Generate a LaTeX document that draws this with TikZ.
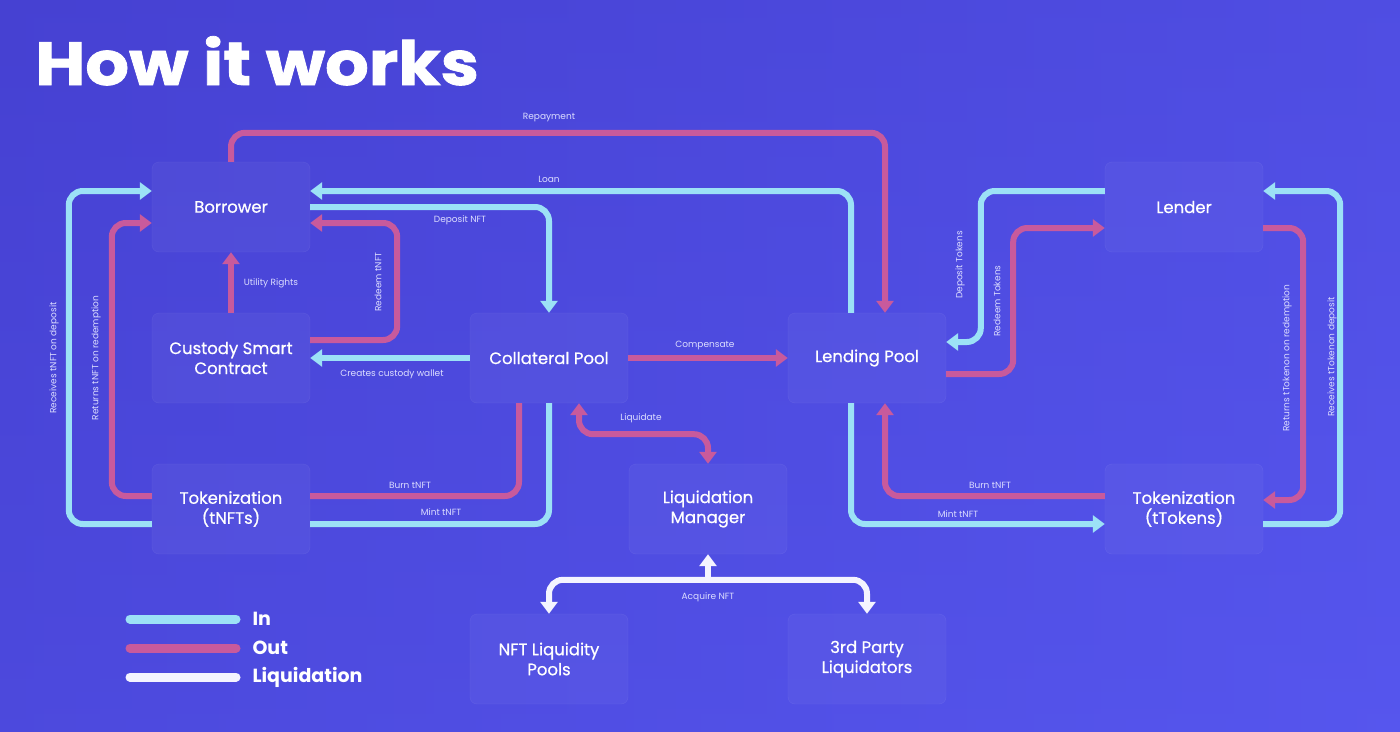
\documentclass[tikz,border=0pt]{standalone}
\usepackage{fontspec}
\setmainfont{Poppins}
\usetikzlibrary{arrows.meta,calc}
\definecolor{bgA}{HTML}{4641D2}
\definecolor{bgB}{HTML}{5656EE}
\definecolor{inc}{HTML}{9CE1F6}
\definecolor{outc}{HTML}{C85A9C}
\definecolor{liqc}{HTML}{F4F4FF}
\definecolor{lbl}{HTML}{DCDDFF}
\tikzset{
  box/.style={rounded corners=7pt, fill=white, fill opacity=0.04, draw=white, draw opacity=0.08,
    minimum width=158pt, minimum height=90pt, align=center, text=white, text opacity=1,
    font=\fontsize{16.5}{20}\selectfont\addfontfeature{FakeBold=0.6}},
  conn/.style={line width=6pt, rounded corners=14pt},
  inl/.style={conn, draw=inc},
  outl/.style={conn, draw=outc},
  liql/.style={conn, draw=liqc},
  tip/.style={-{Triangle[width=17pt,length=12pt]}},
  tips/.style={{Triangle[width=17pt,length=12pt]}-{Triangle[width=17pt,length=12pt]}},
  lab/.style={text=lbl, font=\fontsize{9}{11}\selectfont, inner sep=1pt},
  leg/.style={text=white, font=\fontsize{19}{22}\selectfont\bfseries, anchor=west}
}
\begin{document}
\begin{tikzpicture}[x=1pt,y=-1pt]
\useasboundingbox (0,0) rectangle (1400,731);
\shade[left color=bgA, right color=bgB] (0,0) rectangle (1400,731);
\shade[top color=bgA, bottom color=bgB, opacity=0.4] (0,0) rectangle (1400,731);

\node[anchor=base west, text=white, inner sep=0pt, font=\fontsize{61}{62}\selectfont\bfseries\addfontfeature{FakeBold=1.2}] (title) at (35,85) {\scalebox{1.125}[1]{How it works}};

% boxes
\node[box] (bor) at (231,207) {Borrower};
\node[box] (cs)  at (231,358) {Custody Smart\\Contract};
\node[box] (cp)  at (549,358) {Collateral Pool};
\node[box] (lp)  at (867,358) {Lending Pool};
\node[box] (ld)  at (1184,207) {Lender};
\node[box] (tn)  at (231,509) {Tokenization\\(tNFTs)};
\node[box] (lm)  at (708,509) {Liquidation\\Manager};
\node[box] (tt)  at (1184,509) {Tokenization\\(tTokens)};
\node[box] (nlp) at (549,659) {NFT Liquidity\\Pools};
\node[box] (tpl) at (867,659) {3rd Party\\Liquidators};

% top connectors
\draw[outl,tip] (bor.north) -- ++(0,-29) -| ($(lp.north)+(18,0)$);
\draw[inl,tip] ($(lp.north)+(-16,0)$) |- ($(bor.east)+(0,-16)$);
\draw[inl,tip] (bor.east) -| (cp.north);
\draw[outl,tip] ($(cs.east)+(0,-18)$) -- ++(87,0) |- ($(bor.east)+(0,16)$);
\draw[outl,tip] (cs.north) -- (bor.south);
\draw[inl,tip] (cp.west) -- (cs.east);
\draw[outl,tip] (cp.east) -- (lp.west);
\draw[outl,tips] ($(cp.south)+(30,0)$) -- ++(0,31) -| (lm.north);
\draw[outl] ($(tn.east)+(0,-13)$) -| ($(cp.south)+(-30,0)$);
\draw[inl] (cp.south) |- ($(tn.east)+(0,15)$);
\draw[inl,tip] ($(tn.west)+(0,15)$) -- ++(-83,0) |- ($(bor.west)+(0,-16)$);
\draw[outl,tip] ($(tn.west)+(0,-13)$) -- ++(-40,0) |- ($(bor.west)+(0,16)$);

% right side
\draw[inl,tip] ($(ld.west)+(0,-16)$) -- ++(-124,0) |- ($(lp.east)+(0,-16)$);
\draw[outl,tip] ($(lp.east)+(0,16)$) -- ++(67,0) |- ($(ld.west)+(0,21)$);
\draw[outl,tip] ($(ld.east)+(0,21)$) -- ++(40,0) |- ($(tt.east)+(0,-9)$);
\draw[inl,tip] ($(tt.east)+(0,15)$) -- ++(77,0) |- ($(ld.east)+(0,-16)$);
\draw[outl,tip] ($(tt.west)+(0,-13)$) -| ($(lp.south)+(18,0)$);
\draw[inl,tip] ($(lp.south)+(-16,0)$) |- ($(tt.west)+(0,15)$);

% liquidation
\draw[liql,tips] (nlp.north) -- ++(0,-34) -| (tpl.north);
\coordinate (jn) at ($(lm.south)+(0,27)$);
\draw[liql,tip] (jn) -- (lm.south);

% labels
\node[lab] (l1) at (549,118) {Repayment};
\node[lab] (l2) at (549,179) {Loan};
\node[lab] (l3) at (460,220) {Deposit NFT};
\node[lab] (l4) at (271,283) {Utility Rights};
\node[lab,rotate=90] (l5) at (378,282) {Redeem tNFT};
\node[lab] (l6) at (392,374) {Creates custody wallet};
\node[lab] (l7) at (705,345) {Compensate};
\node[lab] (l8) at (641,418) {Liquidate};
\node[lab] (l9) at (410,485) {Burn tNFT};
\node[lab] (l10) at (441,512) {Mint tNFT};
\node[lab,rotate=90] (l11) at (54,358) {Receives tNFT on deposit};
\node[lab,rotate=90] (l12) at (96,358) {Returns tNFT on redemption};
\node[lab,rotate=90] (l13) at (960,265) {Deposit Tokens};
\node[lab,rotate=90] (l14) at (997,301) {Redeem Tokens};
\node[lab,rotate=90] (l15) at (1287,358) {Returns tTokenon on redemption};
\node[lab,rotate=90] (l16) at (1332,357) {Receives tTokenon deposit};
\node[lab] (l17) at (990,485) {Burn tNFT};
\node[lab] (l18) at (958,514) {Mint tNFT};
\node[lab] (l19) at (708,597) {Acquire NFT};

% legend
\draw[draw=inc, line width=9pt, line cap=round] (130,619) -- (236,619);
\draw[draw=outc, line width=9pt, line cap=round] (130,648) -- (236,648);
\draw[draw=liqc, line width=9pt, line cap=round] (130,677) -- (236,677);
\node[leg] (g1) at (249,619) {In};
\node[leg] (g2) at (249,648) {Out};
\node[leg] (g3) at (249,677) {Liquidation};
\end{tikzpicture}
\end{document}
